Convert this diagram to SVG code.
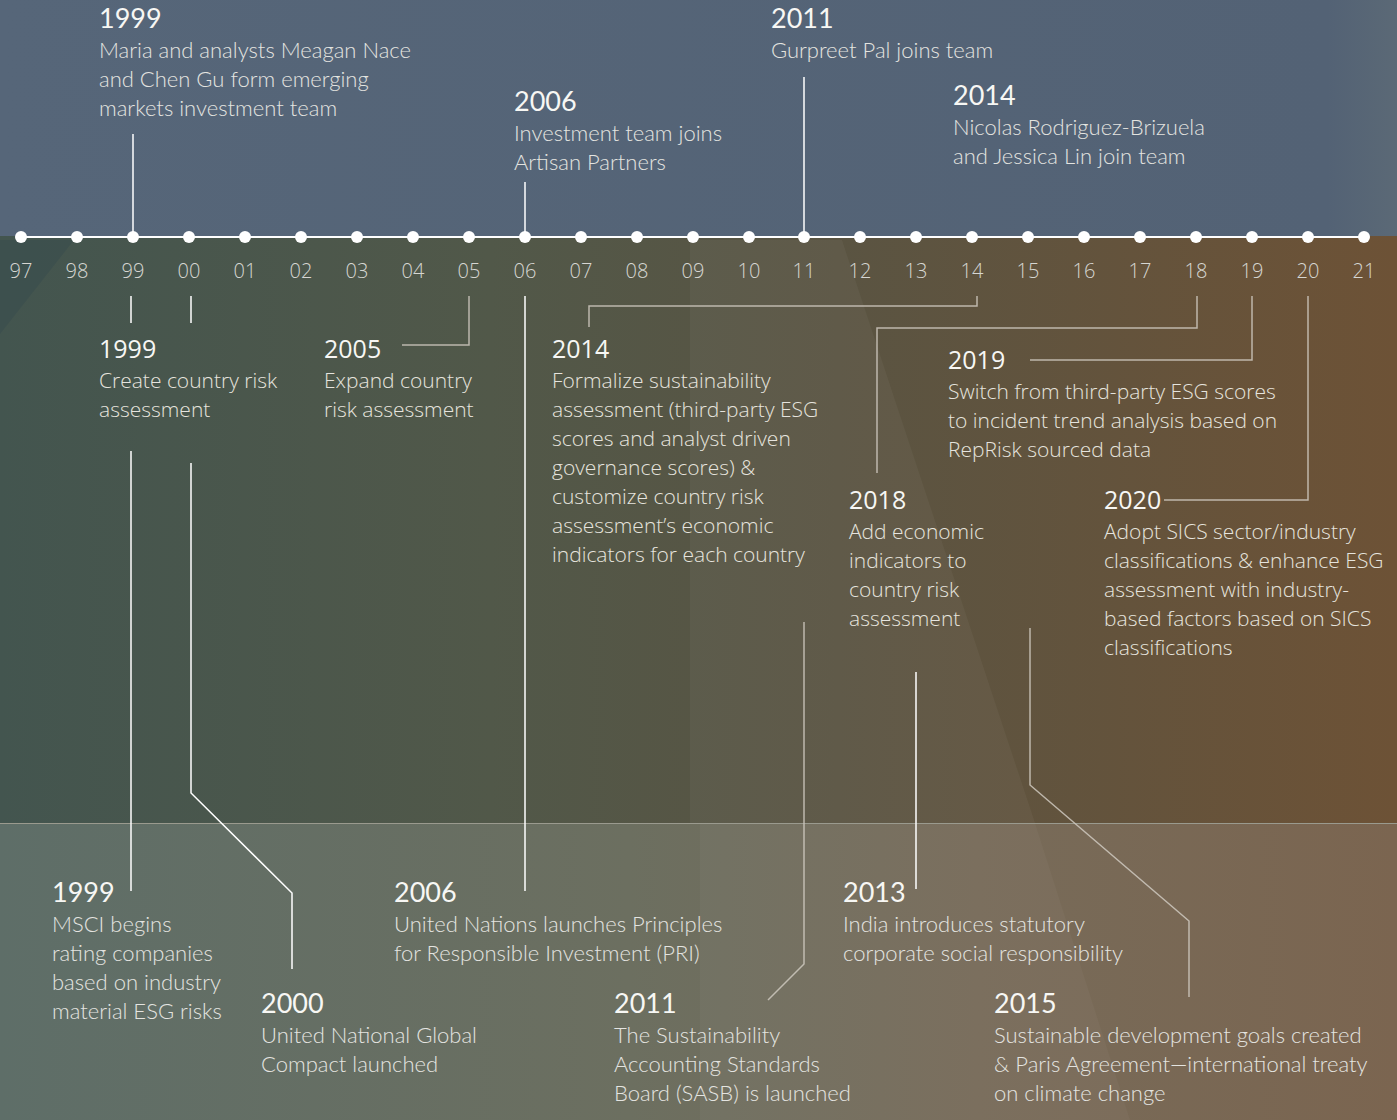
<svg xmlns="http://www.w3.org/2000/svg" width="1397" height="1120" viewBox="0 0 1397 1120">
<defs>
<linearGradient id="mid" x1="0" y1="0" x2="1" y2="0">
<stop offset="0" stop-color="#43554f"/>
<stop offset="0.35" stop-color="#515849"/>
<stop offset="0.6" stop-color="#5a5442"/>
<stop offset="1" stop-color="#6d5236"/>
</linearGradient>
<linearGradient id="top" x1="0" y1="0" x2="1" y2="0">
<stop offset="0" stop-color="#566679"/>
<stop offset="0.95" stop-color="#536275"/>
<stop offset="1" stop-color="#5b6976"/>
</linearGradient>
<linearGradient id="bot" x1="0" y1="0" x2="1" y2="0">
<stop offset="0" stop-color="#5e6e68"/>
<stop offset="0.45" stop-color="#6c6f60"/>
<stop offset="0.7" stop-color="#776b59"/>
<stop offset="1" stop-color="#7b6550"/>
</linearGradient>
<style>
.hd{font-family:Lato,"Open Sans",sans-serif;font-size:27px;fill:#f7f7f4}
.tx{font-family:Lato,"Open Sans",sans-serif;font-weight:300;font-size:22px;fill:#e4e4e0}
.mh{font-family:"Open Sans","Noto Sans",sans-serif;font-size:25px;fill:#f7f7f4}
.mt{font-family:"Open Sans","Noto Sans",sans-serif;font-weight:300;font-size:21px;fill:#e6e4de}
.yl{font-family:"Open Sans","Noto Sans",sans-serif;font-weight:300;font-size:20px;fill:#d6d6d2;text-anchor:middle}
.ln{fill:none;stroke:#ffffff;stroke-width:1.5}
.lt{fill:none;stroke:#cfc9bf;stroke-width:1.5;stroke-opacity:0.85}
.dot{fill:#ffffff}
</style>
</defs>
<g id="background">
<rect x="0" y="0" width="1397" height="1120" fill="url(#mid)"/>
<polygon points="0,240 74,240 0,334" fill="#3c4f4e" opacity="0.8"/>
<polygon points="690,240 842,240 1035,823 690,823" fill="#ffffff" opacity="0.04"/>
<rect x="0" y="0" width="1397" height="236" fill="url(#top)"/>
<rect x="0" y="823" width="1397" height="297" fill="url(#bot)"/>
<polygon points="700,823 1035,823 1130,1120 700,1120" fill="#ffffff" opacity="0.03"/>
<line x1="0" y1="823.5" x2="1397" y2="823.5" stroke="#9a9a8e" stroke-width="1"/>
</g>
<g id="connectors">
<line class="ln" x1="133" y1="134" x2="133" y2="237"/>
<line class="ln" x1="525" y1="182" x2="525" y2="237"/>
<line class="ln" x1="804" y1="77" x2="804" y2="237"/>
<line class="ln" x1="131" y1="296" x2="131" y2="323"/>
<line class="ln" x1="191" y1="296" x2="191" y2="323"/>
<polyline class="lt" points="469,296 469,345 402,345"/>
<polyline class="lt" points="977,296 977,306 589,306 589,327"/>
<polyline class="lt" points="1197,296 1197,328 877,328 877,473"/>
<polyline class="lt" points="1252,296 1252,360 1030,360"/>
<polyline class="lt" points="1308,296 1308,500 1164,500"/>
<line class="ln" x1="131" y1="451" x2="131" y2="891"/>
<polyline class="ln" points="191,463 191,793 292,893 292,969"/>
<line class="ln" x1="525" y1="296" x2="525" y2="891"/>
<polyline class="lt" points="804,622 804,964 768,1000"/>
<line class="ln" x1="916" y1="672" x2="916" y2="889"/>
<polyline class="lt" points="1030,628 1030,785 1189,921 1189,997"/>
</g>
<g id="timeline">
<line x1="21" y1="237" x2="1364" y2="237" stroke="#ffffff" stroke-width="2"/>
<circle class="dot" cx="21" cy="237" r="6"/><circle class="dot" cx="77" cy="237" r="6"/><circle class="dot" cx="133" cy="237" r="6"/><circle class="dot" cx="189" cy="237" r="6"/><circle class="dot" cx="245" cy="237" r="6"/><circle class="dot" cx="301" cy="237" r="6"/><circle class="dot" cx="357" cy="237" r="6"/><circle class="dot" cx="413" cy="237" r="6"/><circle class="dot" cx="469" cy="237" r="6"/><circle class="dot" cx="525" cy="237" r="6"/><circle class="dot" cx="581" cy="237" r="6"/><circle class="dot" cx="637" cy="237" r="6"/><circle class="dot" cx="693" cy="237" r="6"/><circle class="dot" cx="749" cy="237" r="6"/><circle class="dot" cx="804" cy="237" r="6"/><circle class="dot" cx="860" cy="237" r="6"/><circle class="dot" cx="916" cy="237" r="6"/><circle class="dot" cx="972" cy="237" r="6"/><circle class="dot" cx="1028" cy="237" r="6"/><circle class="dot" cx="1084" cy="237" r="6"/><circle class="dot" cx="1140" cy="237" r="6"/><circle class="dot" cx="1196" cy="237" r="6"/><circle class="dot" cx="1252" cy="237" r="6"/><circle class="dot" cx="1308" cy="237" r="6"/><circle class="dot" cx="1364" cy="237" r="6"/>
<text class="yl" x="21" y="278">97</text><text class="yl" x="77" y="278">98</text><text class="yl" x="133" y="278">99</text><text class="yl" x="189" y="278">00</text><text class="yl" x="245" y="278">01</text><text class="yl" x="301" y="278">02</text><text class="yl" x="357" y="278">03</text><text class="yl" x="413" y="278">04</text><text class="yl" x="469" y="278">05</text><text class="yl" x="525" y="278">06</text><text class="yl" x="581" y="278">07</text><text class="yl" x="637" y="278">08</text><text class="yl" x="693" y="278">09</text><text class="yl" x="749" y="278">10</text><text class="yl" x="804" y="278">11</text><text class="yl" x="860" y="278">12</text><text class="yl" x="916" y="278">13</text><text class="yl" x="972" y="278">14</text><text class="yl" x="1028" y="278">15</text><text class="yl" x="1084" y="278">16</text><text class="yl" x="1140" y="278">17</text><text class="yl" x="1196" y="278">18</text><text class="yl" x="1252" y="278">19</text><text class="yl" x="1308" y="278">20</text><text class="yl" x="1364" y="278">21</text>
</g>
<g id="top-1999"><text class="hd" x="99" y="28">1999</text><text class="tx" x="99" y="58">Maria and analysts Meagan Nace</text><text class="tx" x="99" y="87">and Chen Gu form emerging</text><text class="tx" x="99" y="116">markets investment team</text></g>
<g id="top-2006"><text class="hd" x="514" y="111">2006</text><text class="tx" x="514" y="141">Investment team joins</text><text class="tx" x="514" y="170">Artisan Partners</text></g>
<g id="top-2011"><text class="hd" x="771" y="28">2011</text><text class="tx" x="771" y="58">Gurpreet Pal joins team</text></g>
<g id="top-2014"><text class="hd" x="953" y="105">2014</text><text class="tx" x="953" y="135">Nicolas Rodriguez-Brizuela</text><text class="tx" x="953" y="164">and Jessica Lin join team</text></g>
<g id="mid-1999"><text class="mh" x="99" y="358">1999</text><text class="mt" x="99" y="388">Create country risk</text><text class="mt" x="99" y="417">assessment</text></g>
<g id="mid-2005"><text class="mh" x="324" y="358">2005</text><text class="mt" x="324" y="388">Expand country</text><text class="mt" x="324" y="417">risk assessment</text></g>
<g id="mid-2014"><text class="mh" x="552" y="358">2014</text><text class="mt" x="552" y="388">Formalize sustainability</text><text class="mt" x="552" y="417">assessment (third-party ESG</text><text class="mt" x="552" y="446">scores and analyst driven</text><text class="mt" x="552" y="475">governance scores) &amp;</text><text class="mt" x="552" y="504">customize country risk</text><text class="mt" x="552" y="533">assessment’s economic</text><text class="mt" x="552" y="562">indicators for each country</text></g>
<g id="mid-2019"><text class="mh" x="948" y="369">2019</text><text class="mt" x="948" y="399">Switch from third-party ESG scores</text><text class="mt" x="948" y="428">to incident trend analysis based on</text><text class="mt" x="948" y="457">RepRisk sourced data</text></g>
<g id="mid-2018"><text class="mh" x="849" y="509">2018</text><text class="mt" x="849" y="539">Add economic</text><text class="mt" x="849" y="568">indicators to</text><text class="mt" x="849" y="597">country risk</text><text class="mt" x="849" y="626">assessment</text></g>
<g id="mid-2020"><text class="mh" x="1104" y="509">2020</text><text class="mt" x="1104" y="539">Adopt SICS sector/industry</text><text class="mt" x="1104" y="568">classifications &amp; enhance ESG</text><text class="mt" x="1104" y="597">assessment with industry-</text><text class="mt" x="1104" y="626">based factors based on SICS</text><text class="mt" x="1104" y="655">classifications</text></g>
<g id="bot-1999"><text class="hd" x="52" y="902">1999</text><text class="tx" x="52" y="932">MSCI begins</text><text class="tx" x="52" y="961">rating companies</text><text class="tx" x="52" y="990">based on industry</text><text class="tx" x="52" y="1019">material ESG risks</text></g>
<g id="bot-2000"><text class="hd" x="261" y="1013">2000</text><text class="tx" x="261" y="1043">United National Global</text><text class="tx" x="261" y="1072">Compact launched</text></g>
<g id="bot-2006"><text class="hd" x="394" y="902">2006</text><text class="tx" x="394" y="932">United Nations launches Principles</text><text class="tx" x="394" y="961">for Responsible Investment (PRI)</text></g>
<g id="bot-2011"><text class="hd" x="614" y="1013">2011</text><text class="tx" x="614" y="1043">The Sustainability</text><text class="tx" x="614" y="1072">Accounting Standards</text><text class="tx" x="614" y="1101">Board (SASB) is launched</text></g>
<g id="bot-2013"><text class="hd" x="843" y="902">2013</text><text class="tx" x="843" y="932">India introduces statutory</text><text class="tx" x="843" y="961">corporate social responsibility</text></g>
<g id="bot-2015"><text class="hd" x="994" y="1013">2015</text><text class="tx" x="994" y="1043">Sustainable development goals created</text><text class="tx" x="994" y="1072">&amp; Paris Agreement—international treaty</text><text class="tx" x="994" y="1101">on climate change</text></g>
</svg>
